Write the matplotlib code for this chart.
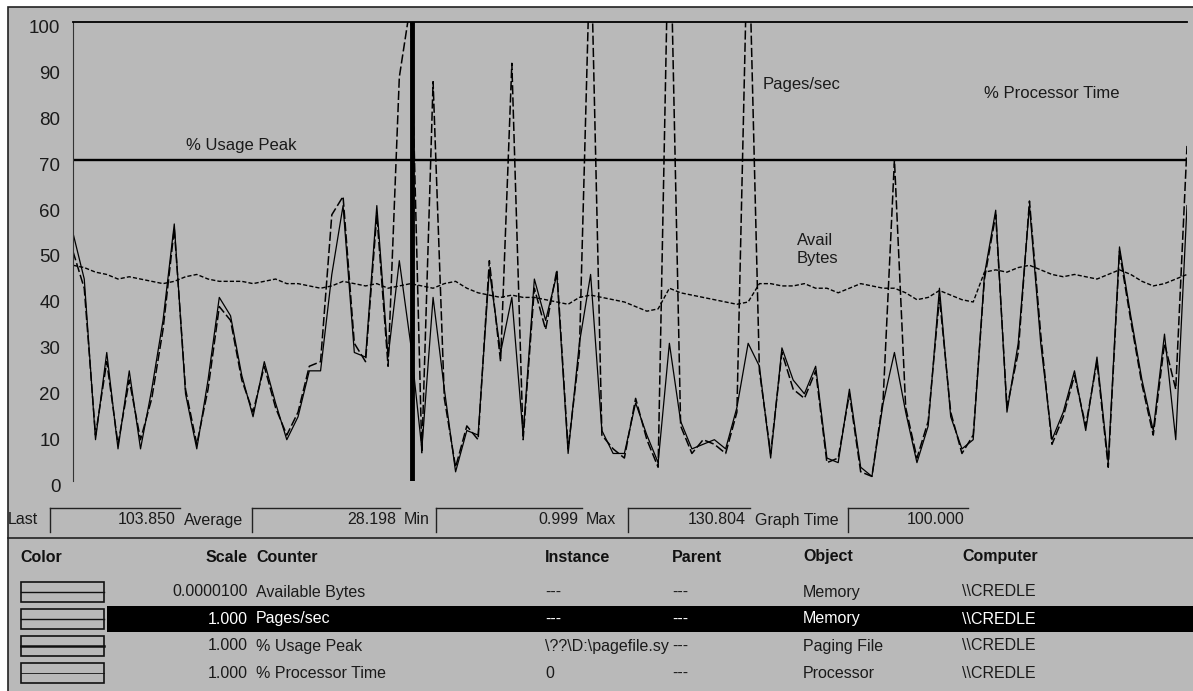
import matplotlib
matplotlib.use("Agg")
import matplotlib.pyplot as plt
from matplotlib.patches import Rectangle
from matplotlib.transforms import ScaledTranslation
import numpy as np

W, H = 1193, 691
BG = "#b9b9b9"
FONT = "Liberation Sans"
INK = "#1a1a1a"

# --- chart data (100 samples, graph time = 100) ---
processor_time = [
    54, 44, 9, 28, 7, 24, 7, 20, 35, 56,
    19, 7, 22, 40, 36, 23, 14, 26, 17, 9,
    14, 24, 24, 45, 60, 28, 27, 60, 27, 48,
    30, 7, 40, 20, 2, 11, 10, 46, 28, 40,
    10, 44, 35, 45, 6, 30, 45, 11, 6, 6,
    17, 10, 4, 30, 13, 7, 8, 9, 7, 16,
    30, 25, 5, 29, 22, 19, 25, 5, 4, 20,
    3, 1, 17, 28, 15, 4, 12, 42, 14, 7,
    9, 45, 59, 15, 30, 60, 30, 9, 15, 24,
    11, 27, 4, 51, 36, 22, 11, 32, 9, 60,
]
pages_sec = [
    50, 42, 10, 26, 8, 22, 9, 18, 33, 55,
    20, 8, 20, 38, 35, 22, 15, 25, 16, 10,
    15, 25, 26, 58, 62, 30, 26, 58, 25, 88,
    104, 6, 87, 18, 3, 12, 9, 48, 26, 91,
    9, 42, 33, 46, 7, 28, 120, 10, 7, 5,
    18, 9, 3, 131, 12, 6, 9, 8, 6, 15,
    125, 24, 6, 28, 20, 18, 24, 4, 5, 19,
    2, 1, 18, 70, 16, 5, 13, 40, 15, 6,
    10, 44, 58, 16, 28, 61, 32, 8, 14, 23,
    12, 26, 3, 50, 35, 21, 10, 30, 20, 73,
]
avail_bytes = [
    47, 46.5, 45.5, 45, 44, 44.5, 44, 43.5, 43, 43.5,
    44.5, 45, 44, 43.5, 43.5, 43.5, 43, 43.5, 44, 43,
    43, 42.5, 42, 42.5, 43.5, 43, 42.5, 43, 42, 42.5,
    43, 42.5, 42, 43, 43.5, 42, 41, 40.5, 40, 40.5,
    40, 40, 39.5, 39, 38.5, 40, 40.5, 40, 39.5, 39,
    38, 37, 37.5, 42, 41, 40.5, 40, 39.5, 39, 38.5,
    39, 43, 43, 42.5, 42.5, 43, 42, 42, 41, 42,
    43, 42.5, 42, 42, 41, 39.5, 40, 41.5, 40.5, 39.5,
    39, 45.5, 46, 45.5, 46.5, 47, 46, 45, 44.5, 45,
    44.5, 44, 45, 46, 45, 43.5, 42.5, 43, 44, 45,
]
usage_peak = 70
current_sample = 30.1
y_ticks = [0, 10, 20, 30, 40, 50, 60, 70, 80, 90, 100]

stat_labels = ["Last", "Average", "Min", "Max", "Graph Time"]
stat_values = ["103.850", "28.198", "0.999", "130.804", "100.000"]

headers = ["Color", "Scale", "Counter", "Instance", "Parent", "Object", "Computer"]
scales = ["0.0000100", "1.000", "1.000", "1.000"]
counters = ["Available Bytes", "Pages/sec", "% Usage Peak", "% Processor Time"]
instances = ["---", "---", "\\??\\D:\\pagefile.sy", "0"]
parents = ["---", "---", "---", "---"]
objects = ["Memory", "Memory", "Paging File", "Processor"]
computers = ["\\\\CREDLE"] * 4
selected_row = 1


def fx(px):
    return px / W


def fy(py):
    return 1 - py / H


def hline(x0, x1, y, **kw):
    fig.lines.append(plt.Line2D([fx(x0), fx(x1)], [fy(y), fy(y)],
                                transform=fig.transFigure, **kw))


def vline(x, y0, y1, **kw):
    fig.lines.append(plt.Line2D([fx(x), fx(x)], [fy(y0), fy(y1)],
                                transform=fig.transFigure, **kw))


plt.rcParams["font.family"] = [FONT, "DejaVu Sans"]
fig = plt.figure(figsize=(W / 100, H / 100), dpi=100)
fig.patch.set_facecolor("white")

# window panel
fig.patches.append(Rectangle((fx(8), -0.01), fx(W - 8) + 0.01, fy(7) + 0.01,
                             transform=fig.transFigure, facecolor=BG,
                             edgecolor="#222222", lw=1.2, zorder=-5))

# --- graph ---
ax = fig.add_axes([fx(73), fy(481), fx(1187 - 73), (481 - 22) / H])
ax.set_zorder(5)
ax.set_facecolor("none")
x = np.arange(len(processor_time))
ax.plot(x, avail_bytes, color="black", lw=1.0, dashes=(3, 1.5))
ax.plot(x, processor_time, color="black", lw=0.9)
ax.plot(x, pages_sec, color="black", lw=1.1, dashes=(6, 2))
ax.axhline(usage_peak, color="black", lw=1.7)
ax.axvline(current_sample, color="black", lw=3.5)
ax.set_xlim(0, len(processor_time) - 1)
ax.set_ylim(0, 100)
ax.set_xticks([])
ax.set_yticks(y_ticks)
ax.set_yticklabels([str(t) for t in y_ticks], fontsize=13.5, color=INK)
ax.tick_params(axis="y", length=0, pad=9)
# windows draws the scale numbers a few pixels under the gridline level
for lab in ax.get_yticklabels():
    lab.set_transform(lab.get_transform() + ScaledTranslation(0, -0.045, fig.dpi_scale_trans))
for side in ["right", "bottom"]:
    ax.spines[side].set_visible(False)
ax.spines["left"].set_color("#333333")
ax.spines["top"].set_linewidth(1.3)

# labels written on the graph
ax.text(10, 73, "% Usage Peak", fontsize=12, color=INK, va="center")
ax.text(61.3, 86.3, "Pages/sec", fontsize=12, color=INK, va="center")
ax.text(81, 84.5, "% Processor Time", fontsize=12, color=INK, va="center")
ax.text(64.3, 50.5, "Avail\nBytes", fontsize=12, color=INK, va="center", linespacing=1.25)

# --- value bar (sunken fields: dark left and top edges only) ---
label_x = [8, 184, 404, 586, 755]
box_l = [50, 252, 436, 628, 848]
box_r = [180, 400, 582, 750, 968]
stat_y = 520
for lab, val, lx, bl, br in zip(stat_labels, stat_values, label_x, box_l, box_r):
    fig.text(fx(lx), fy(stat_y), lab, fontsize=11.5, va="center", ha="left", color=INK)
    vline(bl, stat_y - 12, stat_y + 12, color="#222222", lw=1.0)
    hline(bl, br, stat_y - 12, color="#222222", lw=1.0)
    fig.text(fx(br - 4), fy(stat_y), val, fontsize=11.5, va="center", ha="right", color=INK)

hline(8, W, 538, color="#222222", lw=1.2)

# --- legend table ---
header_y = 557
col_x = [20, 248, 256, 545, 672, 803, 962]
col_ha = ["left", "right", "left", "left", "left", "left", "left"]
for name, cx, ha in zip(headers, col_x, col_ha):
    fig.text(fx(cx), fy(header_y), name, fontsize=11.5, fontweight="bold",
             va="center", ha=ha, color="#111111")

row_y = [592, 619, 646, 673]
fig.patches.append(Rectangle((fx(107), fy(row_y[selected_row] + 13)), 1, 26 / H,
                             transform=fig.transFigure, facecolor="black",
                             edgecolor="none", zorder=1))
swatch_lw = [1.0, 1.0, 1.8, 0.6]
for i, ry in enumerate(row_y):
    tc = "white" if i == selected_row else INK
    fig.patches.append(Rectangle((fx(21), fy(ry + 10)), fx(83), 20 / H,
                                 transform=fig.transFigure, facecolor="none",
                                 edgecolor="#111111", lw=1.2, zorder=2))
    hline(21, 104, ry, color="#111111", lw=swatch_lw[i], zorder=2)
    cells = [scales[i], counters[i], instances[i], parents[i], objects[i], computers[i]]
    for cell, cx, ha in zip(cells, col_x[1:], col_ha[1:]):
        fig.text(fx(cx), fy(ry), cell, fontsize=11.5, va="center", ha=ha, color=tc, zorder=3)

fig.savefig("out.png", dpi=100, facecolor=fig.get_facecolor())
